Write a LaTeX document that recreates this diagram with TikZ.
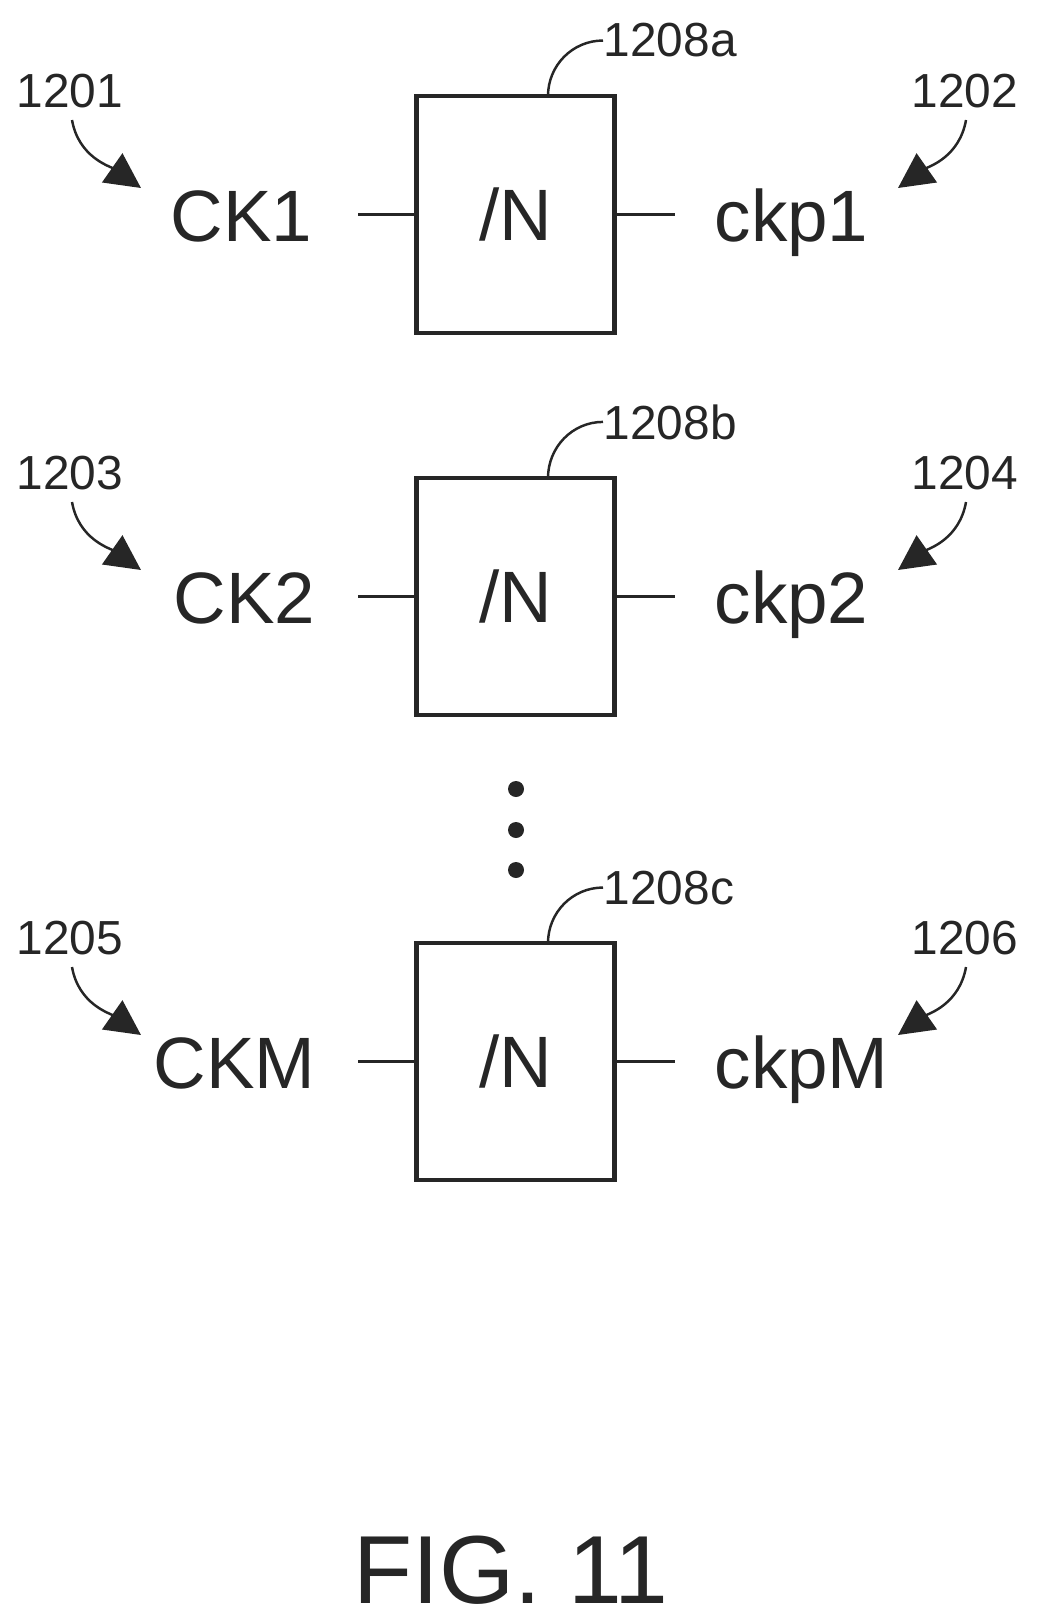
\documentclass[tikz,border=0pt]{standalone}
\usepackage{fontspec}
\setmainfont{Liberation Sans}
\usepackage{xcolor}
\usetikzlibrary{arrows.meta}

\tikzset{
  divbox/.style={draw, line width=1.25pt, minimum width=1.98cm, minimum height=2.37cm, inner sep=0pt, font=\bigfont},
  clocktext/.style={inner sep=0pt, font=\bigfont},
  reftext/.style={inner sep=0pt, font=\reffont},
  wire/.style={line width=1.1pt},
  leader/.style={line width=0.7pt},
  refarrow/.style={line width=0.7pt, -{Triangle[length=10pt, width=10pt]}},
  dotnode/.style={circle, fill, inner sep=0pt, minimum size=0.16cm}
}
\def\bigfont{\fontsize{20.7}{25}\selectfont}
\def\reffont{\fontsize{13.6}{16}\selectfont}
\def\figfont{\fontsize{27.5}{33}\selectfont}

\begin{document}
\begin{tikzpicture}[x=0.01cm, y=0.01cm, color=black!85]
\useasboundingbox (0,0) rectangle (1037,-1624);

\begin{scope}[shift={(0, 0)}] % FIRST ROW
\node [divbox] (box1) at (515.5, -214.5) {/N};
\node [clocktext, anchor=base east] (ck1) at (313, -241) {CK1};
\node [clocktext, anchor=base west] (ckp1) at (714, -241) {ckp1};
\node [reftext, anchor=base] (ref1201) at (70, -107) {1201};
\node [reftext, anchor=base] (ref1202) at (965, -107) {1202};
\node [reftext, anchor=base west] (ref1208a) at (603, -57) {1208a};

\coordinate (wirel1) at (358, -214.5);
\coordinate (wirer1) at (675, -214.5);
\coordinate (tipl1) at (141, -188);
\coordinate (tipr1) at (898, -188);
\coordinate (startl1) at (72, -120);
\coordinate (startr1) at (966, -120);
\coordinate (lead1) at (548, -96);

\draw[wire] (wirel1) -- (box1.west);
\draw[wire] (box1.east) -- (wirer1);
\draw[refarrow] (startl1) to[out=-80, in=145] (tipl1);
\draw[refarrow] (startr1) to[out=-100, in=35] (tipr1);
\draw[leader] (lead1) to[out=90, in=180] (ref1208a.west);
\end{scope}

\begin{scope}[shift={(0, -382)}] % SECOND ROW
\node [divbox] (box2) at (515.5, -214.5) {/N};
\node [clocktext, anchor=base east] (ck2) at (316, -241) {CK2};
\node [clocktext, anchor=base west] (ckp2) at (714, -241) {ckp2};
\node [reftext, anchor=base] (ref1203) at (70, -107) {1203};
\node [reftext, anchor=base] (ref1204) at (965, -107) {1204};
\node [reftext, anchor=base west] (ref1208b) at (603, -57) {1208b};

\coordinate (wirel2) at (358, -214.5);
\coordinate (wirer2) at (675, -214.5);
\coordinate (tipl2) at (141, -188);
\coordinate (tipr2) at (898, -188);
\coordinate (startl2) at (72, -120);
\coordinate (startr2) at (966, -120);
\coordinate (lead2) at (548, -96);

\draw[wire] (wirel2) -- (box2.west);
\draw[wire] (box2.east) -- (wirer2);
\draw[refarrow] (startl2) to[out=-80, in=145] (tipl2);
\draw[refarrow] (startr2) to[out=-100, in=35] (tipr2);
\draw[leader] (lead2) to[out=90, in=180] (ref1208b.west);
\end{scope}

% dots between the rows
\node [dotnode] (dot1) at (516, -789) {};
\node [dotnode] (dot2) at (516, -830) {};
\node [dotnode] (dot3) at (516, -870) {};

\begin{scope}[shift={(0, -847)}] % THIRD ROW
\node [divbox] (box3) at (515.5, -214.5) {/N};
\node [clocktext, anchor=base east] (ckm) at (316, -241) {CKM};
\node [clocktext, anchor=base west] (ckpm) at (714, -241) {ckpM};
\node [reftext, anchor=base] (ref1205) at (70, -107) {1205};
\node [reftext, anchor=base] (ref1206) at (965, -107) {1206};
\node [reftext, anchor=base west] (ref1208c) at (603, -57) {1208c};

\coordinate (wirel3) at (358, -214.5);
\coordinate (wirer3) at (675, -214.5);
\coordinate (tipl3) at (141, -188);
\coordinate (tipr3) at (898, -188);
\coordinate (startl3) at (72, -120);
\coordinate (startr3) at (966, -120);
\coordinate (lead3) at (548, -96);

\draw[wire] (wirel3) -- (box3.west);
\draw[wire] (box3.east) -- (wirer3);
\draw[refarrow] (startl3) to[out=-80, in=145] (tipl3);
\draw[refarrow] (startr3) to[out=-100, in=35] (tipr3);
\draw[leader] (lead3) to[out=90, in=180] (ref1208c.west);
\end{scope}

\node [inner sep=0pt, anchor=base, font=\figfont] (figlabel) at (511, -1603) {FIG. 11};
\end{tikzpicture}
\end{document}
